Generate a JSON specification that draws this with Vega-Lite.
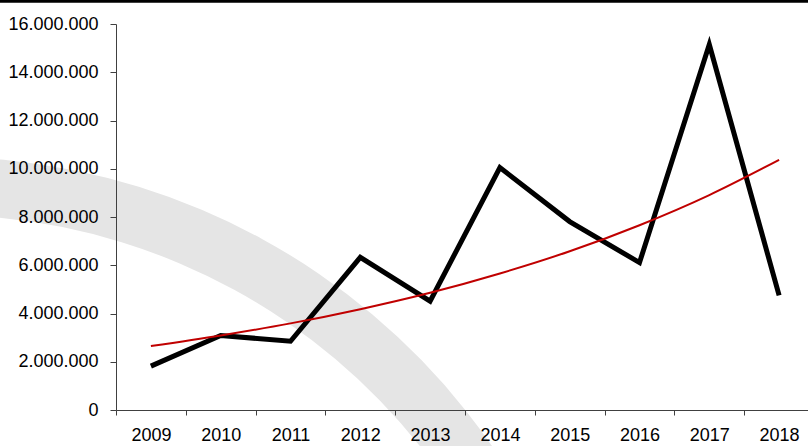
{
  "$schema": "https://vega.github.io/schema/vega-lite/v6.json",
  "width": 692,
  "height": 386,
  "autosize": {"type": "none"},
  "padding": {"left": 116, "top": 24, "right": 0, "bottom": 36},
  "background": "white",
  "config": {
    "view": {"stroke": null}
  },
  "resolve": {"scale": {"x": "independent"}},
  "layer": [
    {
      "data": {"values": [{"shape": "watermark"}]},
      "layer": [
        {
          "mark": {"type": "arc", "theta": -0.3, "theta2": 1.3, "radius": 670, "radius2": 612, "color": "#e5e5e5", "clip": false},
          "encoding": {
            "x": {"datum": -2.51, "type": "quantitative", "scale": {"domain": [0, 10], "range": [0, 698]}, "axis": null},
            "y": {
              "datum": -17280000,
              "type": "quantitative",
              "axis": {
                "orient": "left",
                "title": null,
                "values": [0, 2000000, 4000000, 6000000, 8000000, 10000000, 12000000, 14000000, 16000000],
                "labelExpr": "replace(format(datum.value, ','), regexp(',', 'g'), '.')",
                "tickSize": 6,
                "labelPadding": 12,
                "labelFont": "Liberation Sans, Arial, sans-serif",
                "labelFontSize": 18,
                "labelColor": "black",
                "domainColor": "#404040",
                "tickColor": "#404040",
                "grid": false,
                "zindex": 1
              }
            }
          }
        },
        {
          "mark": {"type": "rule", "color": "black", "strokeWidth": 3, "clip": false},
          "encoding": {
            "x": {"datum": -1.7, "type": "quantitative"},
            "x2": {"datum": 10},
            "y": {"datum": 16940000, "type": "quantitative"}
          }
        }
      ]
    },
    {
      "data": {
        "values": [
          {"year": "2009", "value": 1820000, "trend": 2650000},
          {"year": "2010", "value": 3090000, "trend": 3090000},
          {"year": "2011", "value": 2850000, "trend": 3590000},
          {"year": "2012", "value": 6330000, "trend": 4180000},
          {"year": "2013", "value": 4510000, "trend": 4860000},
          {"year": "2014", "value": 10050000, "trend": 5660000},
          {"year": "2015", "value": 7810000, "trend": 6580000},
          {"year": "2016", "value": 6110000, "trend": 7660000},
          {"year": "2017", "value": 15150000, "trend": 8910000},
          {"year": "2018", "value": 4750000, "trend": 10370000}
        ]
      },
      "encoding": {
        "x": {
          "field": "year",
          "type": "ordinal",
          "bandPosition": 0.5,
          "scale": {"type": "band", "paddingInner": 0, "paddingOuter": 0, "range": [0, 698]},
          "axis": {
            "orient": "bottom",
            "title": null,
            "tickBand": "extent",
            "tickSize": 5,
            "labelPadding": 11,
            "labelAngle": 0,
            "labelFont": "Liberation Sans, Arial, sans-serif",
            "labelFontSize": 18,
            "labelColor": "black",
            "domainColor": "#404040",
            "tickColor": "#404040",
            "grid": false,
            "zindex": 1
          }
        }
      },
      "layer": [
        {
          "mark": {"type": "line", "color": "black", "strokeWidth": 5, "strokeJoin": "miter", "strokeCap": "butt"},
          "encoding": {
            "y": {
              "field": "value",
              "type": "quantitative",
              "scale": {"domain": [0, 16000000], "nice": false},
              "axis": {
                "orient": "left",
                "title": null,
                "values": [0, 2000000, 4000000, 6000000, 8000000, 10000000, 12000000, 14000000, 16000000],
                "labelExpr": "replace(format(datum.value, ','), regexp(',', 'g'), '.')",
                "tickSize": 6,
                "labelPadding": 12,
                "labelFont": "Liberation Sans, Arial, sans-serif",
                "labelFontSize": 18,
                "labelColor": "black",
                "domainColor": "#404040",
                "tickColor": "#404040",
                "grid": false,
                "zindex": 1
              }
            }
          }
        },
        {
          "mark": {"type": "line", "color": "#c00000", "strokeWidth": 2, "interpolate": "monotone"},
          "encoding": {
            "y": {"field": "trend", "type": "quantitative"}
          }
        }
      ]
    }
  ]
}
